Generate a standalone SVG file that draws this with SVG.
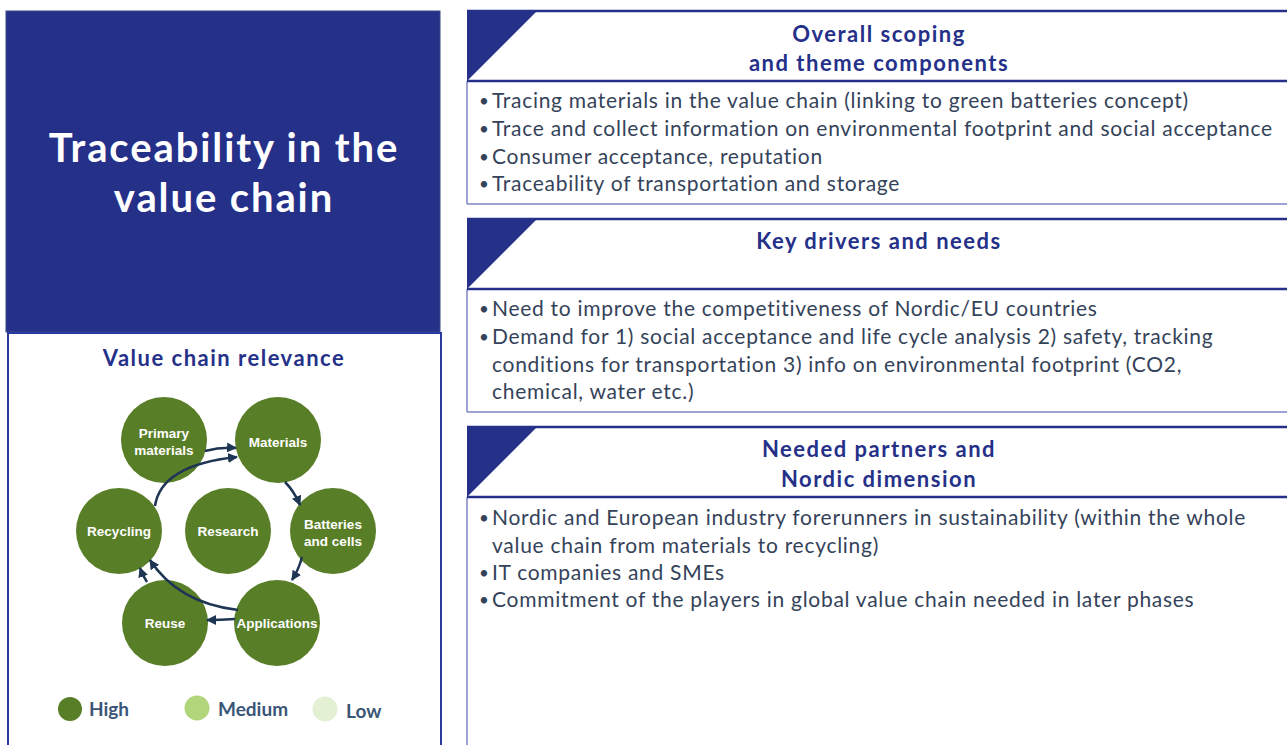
<svg xmlns="http://www.w3.org/2000/svg" width="1287" height="745" viewBox="0 0 1287 745">
<defs>
<marker id="ah" viewBox="0 0 10 10" refX="9" refY="5" markerWidth="4" markerHeight="4" orient="auto" markerUnits="strokeWidth">
<path d="M0,0 L10,5 L0,10 Z" fill="#1e3553"/>
</marker>
<style>
.hdr{font-family:Lato,"Noto Sans",sans-serif;font-weight:bold;font-size:22px;letter-spacing:1.5px;fill:#253089;text-anchor:middle}
.body{font-family:Lato,"Noto Sans",sans-serif;font-size:21px;letter-spacing:0.72px;fill:#34435a}
.bul{font-size:17px;letter-spacing:0}
.thick{stroke:#253089;stroke-width:2.5;fill:none}
.thin{stroke:#7d86c6;stroke-width:1.5;fill:none}
.tri{fill:#253089}
.node{fill:#587e27}
.nl{font-family:"Liberation Sans",Arial,sans-serif;font-weight:bold;font-size:13.5px;fill:#ffffff;text-anchor:middle}
.arr{stroke:#1e3553;stroke-width:2.5;fill:none;marker-end:url(#ah)}
.leg{font-family:Lato,"Noto Sans",sans-serif;font-weight:bold;font-size:19px;fill:#3b5577}
.ttl{font-family:Lato,"Noto Sans",sans-serif;font-weight:bold;font-size:40px;letter-spacing:1.9px;fill:#ffffff;text-anchor:middle}
</style>
</defs>
<rect width="1287" height="745" fill="#ffffff"/>

<g id="title">
<rect x="6" y="11" width="434" height="321" fill="#253089" stroke="#3a4a8a" stroke-width="1"/>
<text x="224" y="162" class="ttl">Traceability in the</text>
<text x="224" y="212" class="ttl">value chain</text>
</g>

<g id="value-chain-panel">
<rect x="8" y="333" width="433" height="420" fill="#ffffff" stroke="#2a3a9e" stroke-width="2"/>
<text x="224" y="366" class="hdr">Value chain relevance</text>
</g>

<g id="node-primary"><circle cx="164" cy="440" r="43" class="node"/><text x="164" y="438" class="nl">Primary</text><text x="164" y="455" class="nl">materials</text></g>
<g id="node-materials"><circle cx="278" cy="440" r="43" class="node"/><text x="278" y="447" class="nl">Materials</text></g>
<g id="node-batteries"><circle cx="333" cy="531" r="43" class="node"/><text x="333" y="529" class="nl">Batteries</text><text x="333" y="546" class="nl">and cells</text></g>
<g id="node-applications"><circle cx="277" cy="623" r="43" class="node"/><text x="277" y="628" class="nl">Applications</text></g>
<g id="node-reuse"><circle cx="165" cy="623" r="43" class="node"/><text x="165" y="628" class="nl">Reuse</text></g>
<g id="node-recycling"><circle cx="119" cy="531" r="43" class="node"/><text x="119" y="536" class="nl">Recycling</text></g>
<g id="node-research"><circle cx="228" cy="531" r="43" class="node"/><text x="228" y="536" class="nl">Research</text></g>

<g id="connectors">
<path class="arr" d="M205,451 Q220,447 236,448"/>
<path class="arr" d="M155,506 Q161,465 237,457"/>
<path class="arr" d="M285,482 Q294,491 300,505"/>
<path class="arr" d="M302,557 Q299,569 292,580"/>
<path class="arr" d="M235,619 Q221,620 207,620"/>
<path class="arr" d="M238,610 Q178,603 150,560"/>
<path class="arr" d="M147,582 Q143,576 140,568"/>
</g>

<g id="legend">
<circle cx="70" cy="709" r="12" fill="#587e27"/><text x="89" y="716" class="leg">High</text>
<circle cx="197" cy="708" r="12.5" fill="#b1d57a"/><text x="218" y="716" class="leg">Medium</text>
<circle cx="325" cy="709" r="12.5" fill="#e3f0d3"/><text x="346" y="718" class="leg">Low</text>
</g>

<g id="panel-scoping">
<line x1="467" y1="204" x2="1287" y2="204" class="thin"/>
<line x1="467" y1="81" x2="467" y2="204" class="thin"/>
<line x1="467" y1="11" x2="1287" y2="11" class="thick"/>
<line x1="467" y1="81" x2="1287" y2="81" class="thick"/>
<polygon points="467,10 538,10 467,81" class="tri"/>
<text x="879" y="42" class="hdr">Overall scoping</text>
<text x="879" y="71" class="hdr">and theme components</text>
<g class="body">
<text x="479" y="107" class="bul">•</text><text x="492" y="108">Tracing materials in the value chain (linking to green batteries concept)</text>
<text x="479" y="135" class="bul">•</text><text x="492" y="136">Trace and collect information on environmental footprint and social acceptance</text>
<text x="479" y="163" class="bul">•</text><text x="492" y="164">Consumer acceptance, reputation</text>
<text x="479" y="190" class="bul">•</text><text x="492" y="191">Traceability of transportation and storage</text>
</g>
</g>

<g id="panel-drivers">
<line x1="467" y1="412" x2="1287" y2="412" class="thin"/>
<line x1="467" y1="289" x2="467" y2="412" class="thin"/>
<line x1="467" y1="219" x2="1287" y2="219" class="thick"/>
<line x1="467" y1="289" x2="1287" y2="289" class="thick"/>
<polygon points="467,218 538,218 467,289" class="tri"/>
<text x="879" y="249" class="hdr">Key drivers and needs</text>
<g class="body">
<text x="479" y="315" class="bul">•</text><text x="492" y="316">Need to improve the competitiveness of Nordic/EU countries</text>
<text x="479" y="343" class="bul">•</text><text x="492" y="344">Demand for 1) social acceptance and life cycle analysis 2) safety, tracking</text>
<text x="492" y="372">conditions for transportation 3) info on environmental footprint (CO2,</text>
<text x="492" y="399">chemical, water etc.)</text>
</g>
</g>

<g id="panel-partners">
<line x1="467" y1="497" x2="467" y2="745" class="thin"/>
<line x1="467" y1="427" x2="1287" y2="427" class="thick"/>
<line x1="467" y1="497" x2="1287" y2="497" class="thick"/>
<polygon points="467,426 538,426 467,497" class="tri"/>
<text x="879" y="457" class="hdr">Needed partners and</text>
<text x="879" y="487" class="hdr">Nordic dimension</text>
<g class="body">
<text x="479" y="524" class="bul">•</text><text x="492" y="525">Nordic and European industry forerunners in sustainability (within the whole</text>
<text x="492" y="553">value chain from materials to recycling)</text>
<text x="479" y="579" class="bul">•</text><text x="492" y="580">IT companies and SMEs</text>
<text x="479" y="606" class="bul">•</text><text x="492" y="607">Commitment of the players in global value chain needed in later phases</text>
</g>
</g>
</svg>
